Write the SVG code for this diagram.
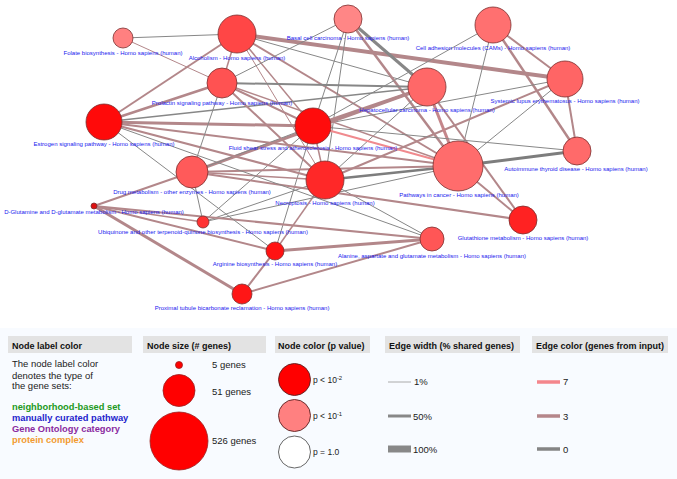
<svg xmlns="http://www.w3.org/2000/svg" width="677" height="479" viewBox="0 0 677 479">
<style>
.e line{fill:none;stroke-linecap:butt}
.g{stroke:#878787}
.m{stroke:#b3878a}
.p{stroke:#f08a8e}
.n{stroke:#7a3030;stroke-width:0.8}
.lb{font-family:"Liberation Sans",Arial,sans-serif;font-size:6px;fill:#2020ee;text-anchor:middle}
.hb{fill:#e3e3e3}
.ht{font-family:"Liberation Sans",Arial,sans-serif;font-size:9px;font-weight:bold;fill:#111}
.tx{font-family:"Liberation Sans",Arial,sans-serif;font-size:9.5px;fill:#222}
.bt{font-family:"Liberation Sans",Arial,sans-serif;font-size:9.3px;font-weight:bold}
</style>
<rect x="0" y="0" width="677" height="479" fill="#ffffff"/>
<rect x="0" y="328" width="677" height="151" fill="#f8fbff"/>
<g id="edges" class="e">
<line class="g" stroke-width="1" x1="123" y1="38" x2="237" y2="34"/>
<line class="m" stroke-width="1" x1="123" y1="38" x2="222" y2="83"/>
<line class="m" stroke-width="4" x1="237" y1="34" x2="565" y2="79"/>
<line class="m" stroke-width="1.5" x1="237" y1="34" x2="222" y2="83"/>
<line class="m" stroke-width="2" x1="237" y1="34" x2="104" y2="122"/>
<line class="m" stroke-width="1.5" x1="237" y1="34" x2="313" y2="126"/>
<line class="g" stroke-width="1" x1="237" y1="34" x2="427" y2="87"/>
<line class="m" stroke-width="1" x1="237" y1="34" x2="325" y2="180"/>
<line class="m" stroke-width="2" x1="237" y1="34" x2="458" y2="166"/>
<line class="g" stroke-width="3" x1="348" y1="19" x2="427" y2="87"/>
<line class="m" stroke-width="2.5" x1="348" y1="19" x2="458" y2="166"/>
<line class="g" stroke-width="1" x1="348" y1="19" x2="222" y2="83"/>
<line class="g" stroke-width="1" x1="348" y1="19" x2="325" y2="180"/>
<line class="g" stroke-width="1" x1="348" y1="19" x2="313" y2="126"/>
<line class="m" stroke-width="2" x1="493" y1="25" x2="565" y2="79"/>
<line class="m" stroke-width="2.5" x1="493" y1="25" x2="577" y2="151"/>
<line class="g" stroke-width="1" x1="493" y1="25" x2="313" y2="126"/>
<line class="g" stroke-width="1" x1="493" y1="25" x2="458" y2="166"/>
<line class="g" stroke-width="1" x1="565" y1="79" x2="313" y2="126"/>
<line class="m" stroke-width="2" x1="565" y1="79" x2="325" y2="180"/>
<line class="g" stroke-width="1" x1="565" y1="79" x2="458" y2="166"/>
<line class="m" stroke-width="2" x1="565" y1="79" x2="577" y2="151"/>
<line class="m" stroke-width="3" x1="427" y1="87" x2="458" y2="166" style="stroke:#c4868a"/>
<line class="m" stroke-width="3" x1="427" y1="87" x2="313" y2="126"/>
<line class="g" stroke-width="2" x1="427" y1="87" x2="222" y2="83"/>
<line class="g" stroke-width="1.5" x1="427" y1="87" x2="104" y2="122"/>
<line class="m" stroke-width="2" x1="427" y1="87" x2="523" y2="220"/>
<line class="m" stroke-width="3" x1="427" y1="87" x2="192" y2="172"/>
<line class="g" stroke-width="1" x1="427" y1="87" x2="325" y2="180"/>
<line class="p" stroke-width="2" x1="313" y1="126" x2="458" y2="166"/>
<line class="m" stroke-width="3" x1="313" y1="126" x2="104" y2="122"/>
<line class="m" stroke-width="2" x1="313" y1="126" x2="222" y2="83"/>
<line class="m" stroke-width="1.5" x1="313" y1="126" x2="325" y2="180"/>
<line class="g" stroke-width="1" x1="313" y1="126" x2="192" y2="172"/>
<line class="g" stroke-width="1" x1="313" y1="126" x2="577" y2="151"/>
<line class="g" stroke-width="1" x1="313" y1="126" x2="275" y2="251"/>
<line class="g" stroke-width="1" x1="313" y1="126" x2="203" y2="222"/>
<line class="g" stroke-width="2.5" x1="325" y1="180" x2="458" y2="166" style="stroke:#7d7d7d"/>
<line class="g" stroke-width="1" x1="325" y1="180" x2="432" y2="239"/>
<line class="m" stroke-width="1.5" x1="325" y1="180" x2="275" y2="251"/>
<line class="m" stroke-width="1.5" x1="325" y1="180" x2="192" y2="172"/>
<line class="m" stroke-width="2" x1="325" y1="180" x2="104" y2="122"/>
<line class="m" stroke-width="2" x1="325" y1="180" x2="222" y2="83"/>
<line class="g" stroke-width="1" x1="325" y1="180" x2="203" y2="222"/>
<line class="g" stroke-width="3" x1="458" y1="166" x2="577" y2="151" style="stroke:#7d7d7d"/>
<line class="m" stroke-width="2" x1="458" y1="166" x2="523" y2="220"/>
<line class="m" stroke-width="2" x1="458" y1="166" x2="104" y2="122"/>
<line class="m" stroke-width="2" x1="458" y1="166" x2="192" y2="172"/>
<line class="m" stroke-width="1.5" x1="458" y1="166" x2="222" y2="83"/>
<line class="g" stroke-width="1" x1="458" y1="166" x2="203" y2="222"/>
<line class="m" stroke-width="2" x1="523" y1="220" x2="192" y2="172"/>
<line class="m" stroke-width="3" x1="432" y1="239" x2="275" y2="251"/>
<line class="m" stroke-width="2" x1="432" y1="239" x2="242" y2="294"/>
<line class="m" stroke-width="2" x1="432" y1="239" x2="94" y2="206"/>
<line class="m" stroke-width="2" x1="275" y1="251" x2="242" y2="294"/>
<line class="m" stroke-width="2" x1="275" y1="251" x2="94" y2="206"/>
<line class="m" stroke-width="3" x1="242" y1="294" x2="94" y2="206"/>
<line class="m" stroke-width="2" x1="94" y1="206" x2="192" y2="172"/>
<line class="m" stroke-width="1.5" x1="94" y1="206" x2="203" y2="222"/>
<line class="m" stroke-width="2.5" x1="104" y1="122" x2="222" y2="83"/>
<line class="g" stroke-width="1" x1="104" y1="122" x2="275" y2="251"/>
<line class="g" stroke-width="1" x1="104" y1="122" x2="432" y2="239"/>
<line class="g" stroke-width="1" x1="222" y1="83" x2="192" y2="172"/>
<line class="g" stroke-width="1" x1="203" y1="222" x2="192" y2="172"/>
</g>
<g id="n-folate"><circle class="n" cx="123" cy="38" r="10" fill="#ff8080"/><text class="lb" x="123" y="55">Folate biosynthesis - Homo sapiens (human)</text></g>
<g id="n-alcoholism"><circle class="n" cx="237" cy="34" r="19" fill="#ff4646"/><text class="lb" x="237" y="60">Alcoholism - Homo sapiens (human)</text></g>
<g id="n-basal"><circle class="n" cx="348" cy="19" r="14" fill="#ff8686"/><text class="lb" x="348" y="40">Basal cell carcinoma - Homo sapiens (human)</text></g>
<g id="n-cams"><circle class="n" cx="493" cy="25" r="18" fill="#ff7070"/><text class="lb" x="493" y="50">Cell adhesion molecules (CAMs) - Homo sapiens (human)</text></g>
<g id="n-prolactin"><circle class="n" cx="222" cy="83" r="15" fill="#ff5252"/><text class="lb" x="222" y="105">Prolactin signaling pathway - Homo sapiens (human)</text></g>
<g id="n-hepato"><circle class="n" cx="427" cy="87" r="19" fill="#ff6868"/><text class="lb" x="427" y="112">Hepatocellular carcinoma - Homo sapiens (human)</text></g>
<g id="n-sle"><circle class="n" cx="565" cy="79" r="18" fill="#ff6565"/><text class="lb" x="565" y="103">Systemic lupus erythematosus - Homo sapiens (human)</text></g>
<g id="n-estrogen"><circle class="n" cx="104" cy="122" r="18" fill="#ff0a0a"/><text class="lb" x="104" y="146">Estrogen signaling pathway - Homo sapiens (human)</text></g>
<g id="n-fluid"><circle class="n" cx="313" cy="126" r="18" fill="#ff0c0c"/><text class="lb" x="313" y="150">Fluid shear stress and atherosclerosis - Homo sapiens (human)</text></g>
<g id="n-autoimmune"><circle class="n" cx="577" cy="151" r="14" fill="#ff6a6a"/><text class="lb" x="576" y="171">Autoimmune thyroid disease - Homo sapiens (human)</text></g>
<g id="n-cancer"><circle class="n" cx="458" cy="166" r="25" fill="#ff6c6c"/><text class="lb" x="459" y="197">Pathways in cancer - Homo sapiens (human)</text></g>
<g id="n-drug"><circle class="n" cx="192" cy="172" r="16" fill="#ff5a5a"/><text class="lb" x="192" y="194">Drug metabolism - other enzymes - Homo sapiens (human)</text></g>
<g id="n-necro"><circle class="n" cx="325" cy="180" r="19" fill="#ff2828"/><text class="lb" x="325" y="205">Necroptosis - Homo sapiens (human)</text></g>
<g id="n-dglu"><circle class="n" cx="94" cy="206" r="3" fill="#dd1010"/><text class="lb" x="94" y="214">D-Glutamine and D-glutamate metabolism - Homo sapiens (human)</text></g>
<g id="n-ubiq"><circle class="n" cx="203" cy="222" r="6" fill="#ff3232"/><text class="lb" x="203" y="234">Ubiquinone and other terpenoid-quinone biosynthesis - Homo sapiens (human)</text></g>
<g id="n-gluta"><circle class="n" cx="523" cy="220" r="14" fill="#ff2222"/><text class="lb" x="523" y="240">Glutathione metabolism - Homo sapiens (human)</text></g>
<g id="n-alanine"><circle class="n" cx="432" cy="239" r="12" fill="#ff5656"/><text class="lb" x="432" y="258">Alanine, aspartate and glutamate metabolism - Homo sapiens (human)</text></g>
<g id="n-arginine"><circle class="n" cx="275" cy="251" r="9" fill="#ff1212"/><text class="lb" x="275" y="266">Arginine biosynthesis - Homo sapiens (human)</text></g>
<g id="n-proximal"><circle class="n" cx="242" cy="294" r="10" fill="#ff1616"/><text class="lb" x="242" y="310">Proximal tubule bicarbonate reclamation - Homo sapiens (human)</text></g>
<g id="legend">
<rect class="hb" x="8" y="336" width="124" height="17"/>
<rect class="hb" x="143" y="336" width="123" height="17"/>
<rect class="hb" x="275" y="336" width="95" height="17"/>
<rect class="hb" x="385" y="336" width="135" height="17"/>
<rect class="hb" x="532" y="336" width="136" height="17"/>
<text class="ht" x="12" y="348.5">Node label color</text>
<text class="ht" x="147" y="348.5">Node size (# genes)</text>
<text class="ht" x="278" y="348.5">Node color (p value)</text>
<text class="ht" x="389" y="348.5">Edge width (% shared genes)</text>
<text class="ht" x="536" y="348.5">Edge color (genes from input)</text>
<text class="tx" x="12" y="367">The node label color</text>
<text class="tx" x="12" y="378.5">denotes the type of</text>
<text class="tx" x="12" y="389">the gene sets:</text>
<text class="bt" x="12" y="410" fill="#229922">neighborhood-based set</text>
<text class="bt" x="12" y="421" fill="#2323cc">manually curated pathway</text>
<text class="bt" x="12" y="432" fill="#8a2aa0">Gene Ontology category</text>
<text class="bt" x="12" y="442.5" fill="#f29a30">protein complex</text>
<circle cx="179" cy="365" r="3.5" fill="#ff0000" stroke="#9a2020" stroke-width="0.8"/>
<circle cx="179" cy="390.5" r="16" fill="#ff0000" stroke="#9a2020" stroke-width="0.8"/>
<circle cx="179" cy="441" r="29" fill="#ff0000" stroke="#9a2020" stroke-width="0.8"/>
<text class="tx" x="212" y="368">5 genes</text>
<text class="tx" x="212" y="394.5">51 genes</text>
<text class="tx" x="212" y="444">526 genes</text>
<circle cx="294.5" cy="379.5" r="16" fill="#ff0000" stroke="#5a2020" stroke-width="0.9"/>
<circle cx="294.5" cy="415.5" r="16" fill="#ff8080" stroke="#5a2020" stroke-width="0.9"/>
<circle cx="294.5" cy="452" r="16" fill="#ffffff" stroke="#555555" stroke-width="0.9"/>
<text class="tx" x="313" y="383" style="font-size:8.5px">p &lt; 10<tspan dy="-3" style="font-size:6px">-2</tspan></text>
<text class="tx" x="313" y="419" style="font-size:8.5px">p &lt; 10<tspan dy="-3" style="font-size:6px">-1</tspan></text>
<text class="tx" x="313" y="454.5" style="font-size:8.5px">p = 1.0</text>
<line x1="388" y1="382" x2="411" y2="382" stroke="#aaaaaa" stroke-width="1"/>
<line x1="388" y1="416" x2="411" y2="416" stroke="#888888" stroke-width="3"/>
<line x1="388" y1="449" x2="411" y2="449" stroke="#888888" stroke-width="7"/>
<text class="tx" x="414" y="385">1%</text>
<text class="tx" x="413" y="419.5">50%</text>
<text class="tx" x="413" y="452.5">100%</text>
<line x1="537" y1="382" x2="560" y2="382" stroke="#f4868c" stroke-width="3.5"/>
<line x1="537" y1="416" x2="560" y2="416" stroke="#b5868a" stroke-width="3.5"/>
<line x1="537" y1="449" x2="560" y2="449" stroke="#858585" stroke-width="3.5"/>
<text class="tx" x="563" y="385">7</text>
<text class="tx" x="563" y="419.5">3</text>
<text class="tx" x="563" y="452.5">0</text>
</g>
</svg>
